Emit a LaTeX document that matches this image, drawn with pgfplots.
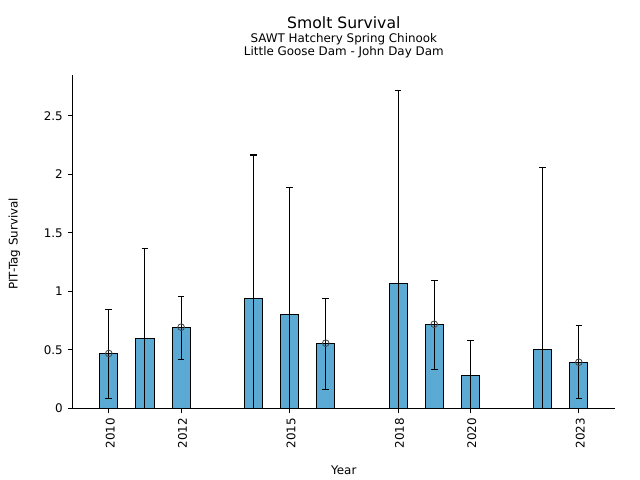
\documentclass[border=0pt]{standalone}
\usepackage{pgfplots}
\pgfplotsset{compat=1.18}
\usepackage{pgfplotstable}
\usepackage{fontspec}
\setmainfont{DejaVu Sans}
\definecolor{barblue}{RGB}{90,170,212}
\definecolor{ptgray}{RGB}{70,70,70}

% year, estimate, error above, error below
\pgfplotstableread{
year y ep em
2010 0.469 0.376 0.386
2011 0.600 0.770 0.600
2012 0.694 0.262 0.274
2014 0.942 1.224 0.942
2015 0.805 1.087 0.805
2016 0.557 0.385 0.394
2018 1.071 1.643 1.071
2019 0.719 0.377 0.385
2020 0.283 0.299 0.283
2022 0.505 1.552 0.505
2023 0.394 0.317 0.308
}\survival

\pgfplotstableread{
year y
2010 0.469
2012 0.694
2016 0.557
2019 0.719
2023 0.394
}\points

\begin{document}
\begin{tikzpicture}
\path[use as bounding box] (-52.3bp,-51.6bp) rectangle (408.5bp,294bp);
\begin{axis}[
    scale only axis,
    width=390.5bp, height=240bp,
    xmin=2009, xmax=2024,
    ymin=0, ymax=2.85,
    axis x line*=bottom,
    axis y line*=left,
    axis line style={-, line width=0.8bp},
    tick align=outside,
    major tick length=3.6bp,
    tick style={black, line width=0.8bp},
    xtick={2010,2012,2015,2018,2020,2023},
    xticklabels={2010,2012,2015,2018,2020,2023},
    ytick={0,0.5,1,1.5,2,2.5},
    yticklabels={0,0.5,1,1.5,2,2.5},
    ticklabel style={font=\fontsize{8.6}{10}\selectfont},
    xticklabel style={rotate=90, anchor=east, yshift=-1bp},
    /pgf/number format/assume math mode=true,
    clip=false,
]
\addplot[ybar, bar width=0.5, fill=barblue, draw=black, line width=0.7bp,
    error bars/.cd, y dir=both, y explicit,
    error bar style={black, line width=0.75bp},
    error mark options={rotate=90, mark size=2.4bp, black, line width=0.75bp}]
    table[x=year, y=y, y error plus=ep, y error minus=em] {\survival};
\addplot[only marks, mark=o, mark size=2.4bp, mark options={ptgray, line width=0.6bp}]
    table[x=year, y=y] {\points};
\end{axis}
\node[anchor=base, font=\fontsize{11.3}{13}\selectfont] at (195.25bp,273.6bp) {Smolt Survival};
\node[anchor=base, font=\fontsize{8.6}{10}\selectfont] at (195.25bp,263.3bp) {SAWT Hatchery Spring Chinook};
\node[anchor=base, font=\fontsize{8.6}{10}\selectfont] at (195.25bp,253.9bp) {Little Goose Dam - John Day Dam};
\node[anchor=base, font=\fontsize{8.6}{10}\selectfont] at (195.25bp,-47.5bp) {Year};
\node[rotate=90, font=\fontsize{8.6}{10}\selectfont] at (-41.9bp,118.5bp) {PIT-Tag Survival};
\end{tikzpicture}
\end{document}
